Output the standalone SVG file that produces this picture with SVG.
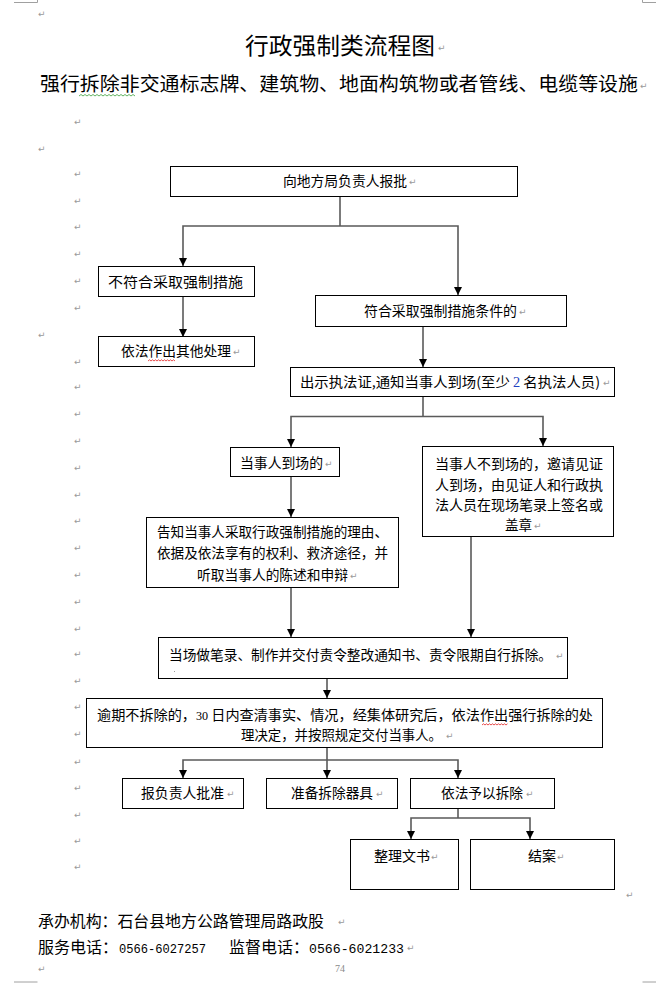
<svg xmlns="http://www.w3.org/2000/svg" width="656" height="983" viewBox="0 0 656 983">
<style>
.bg{fill:#ffffff}
.box{fill:#ffffff;stroke:#000000;stroke-width:1}
.t{font-family:"Noto Sans CJK SC","Noto Sans",sans-serif;font-size:14px;fill:#000000}
.title{font-family:"Noto Sans CJK SC","Noto Sans",sans-serif;font-size:23px;fill:#000000}
.sub{font-family:"Noto Sans CJK SC","Noto Sans",sans-serif;font-size:19px;fill:#000000}
.ft{font-family:"Noto Sans CJK SC","Noto Sans",sans-serif;font-size:16px;fill:#000000}
.num{font-family:"Liberation Mono","DejaVu Sans Mono",monospace;font-size:13px;fill:#000000}
.pm{font-family:"DejaVu Sans",sans-serif;font-size:9px;fill:#9a9a9a}
.con{fill:none;stroke:#5a5a5a;stroke-width:1.6}
.crop{fill:none;stroke:#a0a0a0;stroke-width:1}
.wg{fill:none;stroke:#3aa03a;stroke-width:0.8}
.wr{fill:none;stroke:#e02020;stroke-width:0.8}
</style>
<defs>
<marker id="arr" markerUnits="userSpaceOnUse" markerWidth="9" markerHeight="8" refX="8" refY="4" orient="auto">
<path d="M0,0 L8,4 L0,8 z" fill="#000000"/>
</marker>
</defs>
<rect class="bg" x="0" y="0" width="656" height="983"/>

<!-- page corner marks -->
<g id="corners">
<path class="crop" d="M14,2.5 H37.5 V0"/>
<path class="crop" d="M642.5,0 V2.5 H656"/>
<path class="crop" d="M14,982 H37.5"/>
<path class="crop" d="M642.5,982 H656"/>
</g>

<!-- heading -->
<g id="heading">
<text class="title" x="245" y="54" textLength="190" lengthAdjust="spacingAndGlyphs">行政强制类流程图</text>
<text class="pm" x="438" y="51">↵</text>
<text class="sub" x="40" y="91" textLength="598" lengthAdjust="spacingAndGlyphs">强行拆除非交通标志牌、建筑物、地面构筑物或者管线、电缆等设施</text>
<text class="pm" x="640" y="89">↵</text>
<path class="wg" d="M79,96 l2,-1.5 l2,1.5 l2,-1.5 l2,1.5 l2,-1.5 l2,1.5 l2,-1.5 l2,1.5 l2,-1.5 l2,1.5 l2,-1.5 l2,1.5 l2,-1.5 l2,1.5 l2,-1.5 l2,1.5 l2,-1.5 l2,1.5 l2,-1.5 l2,1.5 l2,-1.5 l2,1.5 l2,-1.5 l2,1.5 l2,-1.5 l2,1.5 l2,-1.5 l2,1.5"/>
</g>

<!-- paragraph marks in margin -->
<g id="margin-marks">
<text class="pm" x="38" y="17">↵</text>
<text class="pm" x="38" y="152">↵</text>
<text class="pm" x="38" y="338">↵</text>
<text class="pm" x="38" y="972">↵</text>
<text class="pm" x="74" y="125">↵</text>
<text class="pm" x="74" y="177">↵</text>
<text class="pm" x="74" y="204">↵</text>
<text class="pm" x="74" y="230">↵</text>
<text class="pm" x="74" y="257">↵</text>
<text class="pm" x="74" y="284">↵</text>
<text class="pm" x="74" y="311">↵</text>
<text class="pm" x="74" y="365">↵</text>
<text class="pm" x="74" y="390">↵</text>
<text class="pm" x="74" y="417">↵</text>
<text class="pm" x="74" y="444">↵</text>
<text class="pm" x="74" y="471">↵</text>
<text class="pm" x="74" y="498">↵</text>
<text class="pm" x="74" y="524">↵</text>
<text class="pm" x="74" y="551">↵</text>
<text class="pm" x="74" y="578">↵</text>
<text class="pm" x="74" y="605">↵</text>
<text class="pm" x="74" y="632">↵</text>
<text class="pm" x="74" y="657">↵</text>
<text class="pm" x="74" y="684">↵</text>
<text class="pm" x="74" y="710">↵</text>
<text class="pm" x="74" y="737">↵</text>
<text class="pm" x="74" y="765">↵</text>
<text class="pm" x="74" y="791">↵</text>
<text class="pm" x="74" y="818">↵</text>
<text class="pm" x="74" y="844">↵</text>
<text class="pm" x="74" y="870">↵</text>
<text class="pm" x="626" y="898">↵</text>
</g>

<!-- connectors -->
<g id="connectors">
<path class="con" d="M340,197 V226"/>
<path class="con" d="M340,226 H183 V266" marker-end="url(#arr)"/>
<path class="con" d="M340,226 H458 V295" marker-end="url(#arr)"/>
<path class="con" d="M183,296 V337" marker-end="url(#arr)"/>
<path class="con" d="M423,326 V367" marker-end="url(#arr)"/>
<path class="con" d="M423,396 V416.5"/>
<path class="con" d="M423,416.5 H291 V447" marker-end="url(#arr)"/>
<path class="con" d="M423,416.5 H543 V446" marker-end="url(#arr)"/>
<path class="con" d="M291,477 V517" marker-end="url(#arr)"/>
<path class="con" d="M291,588 V637" marker-end="url(#arr)"/>
<path class="con" d="M471,537 V637" marker-end="url(#arr)"/>
<path class="con" d="M327,678 V698" marker-end="url(#arr)"/>
<path class="con" d="M327,748 V760"/>
<path class="con" d="M327,760 H183 V778" marker-end="url(#arr)"/>
<path class="con" d="M327,760 V778" marker-end="url(#arr)"/>
<path class="con" d="M327,760 H458 V778" marker-end="url(#arr)"/>
<path class="con" d="M458,808 V818"/>
<path class="con" d="M458,818 H411 V839" marker-end="url(#arr)"/>
<path class="con" d="M458,818 H530 V839" marker-end="url(#arr)"/>
</g>

<g id="n1">
<rect class="box" x="170.5" y="166.5" width="347" height="30"/>
<text class="t" x="283" y="186" textLength="124" lengthAdjust="spacingAndGlyphs">向地方局负责人报批</text>
<text class="pm" x="409" y="185">↵</text>
</g>

<g id="n2">
<rect class="box" x="98.5" y="266.5" width="156" height="30"/>
<text class="t" x="108" y="287" textLength="135" lengthAdjust="spacingAndGlyphs">不符合采取强制措施</text>
</g>

<g id="n3">
<rect class="box" x="315.5" y="295.5" width="251" height="31"/>
<text class="t" x="364" y="316" textLength="153" lengthAdjust="spacingAndGlyphs">符合采取强制措施条件的</text>
<text class="pm" x="519" y="315">↵</text>
</g>

<g id="n4">
<rect class="box" x="98.5" y="336.5" width="156" height="30"/>
<text class="t" x="121" y="356" textLength="110" lengthAdjust="spacingAndGlyphs">依法作出其他处理</text>
<text class="pm" x="233" y="355">↵</text>
<path class="wr" d="M148,361 l1.5,-1.2 l1.5,1.2 l1.5,-1.2 l1.5,1.2 l1.5,-1.2 l1.5,1.2 l1.5,-1.2 l1.5,1.2 l1.5,-1.2 l1.5,1.2 l1.5,-1.2 l1.5,1.2 l1.5,-1.2 l1.5,1.2 l1.5,-1.2 l1.5,1.2 l1.5,-1.2 l1.5,1.2"/>
</g>

<g id="n5">
<rect class="box" x="290.5" y="367.5" width="324" height="29"/>
<text class="t" x="300" y="387" textLength="300" lengthAdjust="spacingAndGlyphs">出示执法证,通知当事人到场(至少 <tspan fill="#2040c0" font-family="Liberation Serif, serif">2</tspan> 名执法人员)</text>
<text class="pm" x="603" y="386">↵</text>
</g>

<g id="n6">
<rect class="box" x="230.5" y="447.5" width="109" height="29"/>
<text class="t" x="240" y="468" textLength="83" lengthAdjust="spacingAndGlyphs">当事人到场的</text>
<text class="pm" x="325" y="467">↵</text>
</g>

<g id="n7">
<rect class="box" x="422.5" y="446.5" width="191" height="90"/>
<text class="t" x="435" y="469" textLength="168" lengthAdjust="spacingAndGlyphs">当事人不到场的，邀请见证</text>
<text class="t" x="435" y="490" textLength="168" lengthAdjust="spacingAndGlyphs">人到场，由见证人和行政执</text>
<text class="t" x="435" y="510" textLength="168" lengthAdjust="spacingAndGlyphs">法人员在现场笔录上签名或</text>
<text class="t" x="505" y="530" textLength="27" lengthAdjust="spacingAndGlyphs">盖章</text>
<text class="pm" x="534" y="529">↵</text>
</g>

<g id="n8">
<rect class="box" x="146.5" y="517.5" width="252" height="70"/>
<text class="t" x="157" y="537" textLength="231" lengthAdjust="spacingAndGlyphs">告知当事人采取行政强制措施的理由、</text>
<text class="t" x="157" y="558" textLength="231" lengthAdjust="spacingAndGlyphs">依据及依法享有的权利、救济途径，并</text>
<text class="t" x="197" y="580" textLength="151" lengthAdjust="spacingAndGlyphs">听取当事人的陈述和申辩</text>
<text class="pm" x="350" y="579">↵</text>
</g>

<g id="n9">
<rect class="box" x="158.5" y="637.5" width="409" height="41"/>
<text class="t" x="169" y="660" style="font-size:13.6px" textLength="383" lengthAdjust="spacingAndGlyphs">当场做笔录、制作并交付责令整改通知书、责令限期自行拆除。</text>
<text class="pm" x="556" y="659">↵</text>
<rect x="174" y="671" width="1" height="1" fill="#999999"/>
</g>

<g id="n10">
<rect class="box" x="86.5" y="698.5" width="516" height="49"/>
<text class="t" x="97" y="720" textLength="496" lengthAdjust="spacingAndGlyphs">逾期不拆除的，<tspan font-family="Liberation Serif, serif" font-size="12">30</tspan> 日内查清事实、情况，经集体研究后，依法作出强行拆除的处</text>
<text class="t" x="241" y="740" style="font-size:13.4px" textLength="201" lengthAdjust="spacingAndGlyphs">理决定，并按照规定交付当事人。</text>
<text class="pm" x="446" y="739">↵</text>
<path class="wr" d="M482,725 l1.5,-1.2 l1.5,1.2 l1.5,-1.2 l1.5,1.2 l1.5,-1.2 l1.5,1.2 l1.5,-1.2 l1.5,1.2 l1.5,-1.2 l1.5,1.2 l1.5,-1.2 l1.5,1.2 l1.5,-1.2 l1.5,1.2 l1.5,-1.2 l1.5,1.2 l1.5,-1.2"/>
</g>

<g id="n11">
<rect class="box" x="122.5" y="778.5" width="121" height="30"/>
<text class="t" x="141" y="798" textLength="83" lengthAdjust="spacingAndGlyphs">报负责人批准</text>
<text class="pm" x="227" y="797">↵</text>
</g>

<g id="n12">
<rect class="box" x="266.5" y="778.5" width="131" height="30"/>
<text class="t" x="291" y="798" textLength="82" lengthAdjust="spacingAndGlyphs">准备拆除器具</text>
<text class="pm" x="376" y="797">↵</text>
</g>

<g id="n13">
<rect class="box" x="410.5" y="778.5" width="144" height="30"/>
<text class="t" x="441" y="798" textLength="82" lengthAdjust="spacingAndGlyphs">依法予以拆除</text>
<text class="pm" x="526" y="797">↵</text>
</g>

<g id="n14">
<rect class="box" x="350.5" y="839.5" width="108" height="50"/>
<text class="t" x="374" y="861">整理文书</text>
<text class="pm" x="431" y="860">↵</text>
</g>

<g id="n15">
<rect class="box" x="470.5" y="839.5" width="144" height="50"/>
<text class="t" x="528" y="861">结案</text>
<text class="pm" x="557" y="860">↵</text>
</g>

<!-- footer -->
<g id="footer">
<text class="ft" x="38" y="927" textLength="286" lengthAdjust="spacingAndGlyphs">承办机构：石台县地方公路管理局路政股</text>
<text class="pm" x="338" y="925">↵</text>
<text class="ft" x="38" y="953" textLength="80" lengthAdjust="spacingAndGlyphs">服务电话：</text>
<text class="num" x="119" y="953" textLength="87" lengthAdjust="spacingAndGlyphs">0566-6027257</text>
<text class="ft" x="229" y="953" textLength="80" lengthAdjust="spacingAndGlyphs">监督电话：</text>
<text class="num" x="309" y="953" textLength="95" lengthAdjust="spacingAndGlyphs">0566-6021233</text>
<text class="pm" x="407" y="951">↵</text>
<text x="340" y="972" text-anchor="middle" font-family="Liberation Serif, serif" font-size="10" fill="#8a8a8a">74</text>
</g>
</svg>
